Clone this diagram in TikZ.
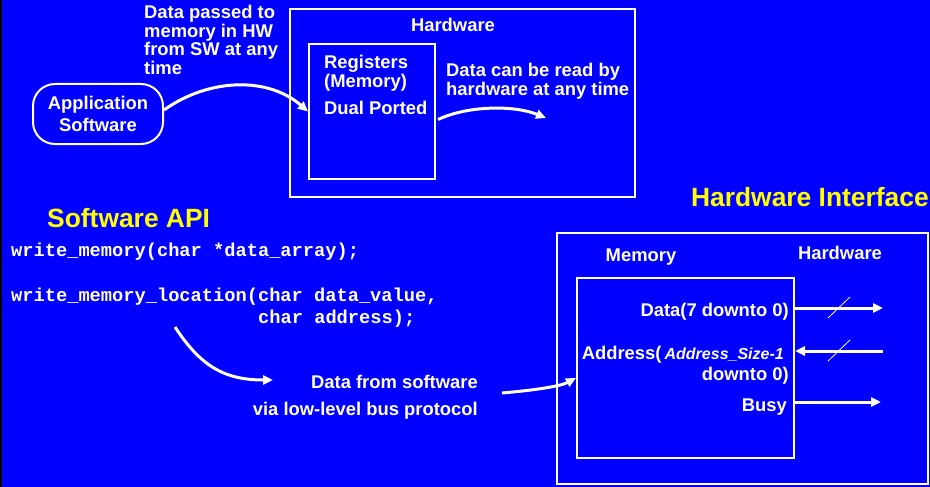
\documentclass[tikz,border=0pt]{standalone}
\usepackage{fontspec}
\setmainfont{Liberation Sans}
\setmonofont{Liberation Mono}
\usetikzlibrary{arrows.meta,calc}

\definecolor{slideblue}{RGB}{0,0,255}
\definecolor{slideyellow}{RGB}{255,255,0}

\tikzset{
  box/.style={draw=white, line width=2pt, inner sep=0pt},
  appbox/.style={box, rounded corners=22pt, text=white, align=center,
    font=\bfseries\fontsize{18.4}{22}\selectfont},
  lbl/.style={text=white, inner sep=0pt, align=left,
    font=\bfseries\fontsize{18.4}{18.5}\selectfont},
  title/.style={text=slideyellow, inner sep=0pt,
    font=\bfseries\fontsize{26.4}{28}\selectfont},
  code/.style={text=white, inner sep=0pt, anchor=base west,
    font=\ttfamily\bfseries\fontsize{18.7}{22}\selectfont},
  wire/.style={draw=white, line width=3pt, -{Triangle[length=10pt,width=9pt]}},
  slash/.style={draw=white, line width=0.8pt},
}

\begin{document}
\begin{tikzpicture}[x=1pt,y=1pt,yscale=-1]
  % slide background
  \fill[slideblue] (0,0) rectangle (930,487);
  \fill[black] (0,0) rectangle (2,487);
  \useasboundingbox (0,0) rectangle (930,487);

  % software writes to dual ported registers
  \node[box, anchor=north west, minimum width=345pt, minimum height=188pt] (hwbox) at (289,8) {};
  \node[lbl] (hwlbl) at (453,25) {Hardware};
  \node[box, anchor=north west, minimum width=126pt, minimum height=135pt] (regs) at (308,43) {};
  \node[lbl, anchor=west] (regname) at (324,73) {Registers\\(Memory)};
  \node[lbl, anchor=west] (dualport) at (324,108) {Dual Ported};
  \node[lbl, anchor=west] (hwread) at (446,81) {Data can be read by\\hardware at any time};
  \node[lbl, anchor=west] (swpass) at (144,40) {Data passed to\\memory in HW\\from SW at any\\time};
  \node[appbox, anchor=north west, minimum width=130pt, minimum height=60pt] (appsw) at (32,83) {Application\\Software};

  \coordinate (hwend) at (546,118);
  \draw[wire] ($(appsw.east)+(0,-4)$) .. controls +(45,-32) and +(-40,-35) .. (regs.west);
  \draw[wire] ($(regs.east)+(2,8)$) .. controls +(30,-14) and +(-32,-13) .. (hwend);

  % software API
  \node[title, anchor=west] (swapi) at (47,218) {Software API};
  \node[code] (api1) at (11,256) {write\_memory(char *data\_array);};
  \node[code] (api2) at (11,301) {write\_memory\_location(char data\_value,};
  \node[code] (api3) at (258,323) {char address);};

  \node[lbl, align=right, anchor=east, font=\bfseries\fontsize{18.4}{27}\selectfont] (bus) at (478,397)
    {Data from software\\via low-level bus protocol};

  % hardware interface
  \node[title, anchor=east] (hwif) at (929,197) {Hardware Interface};
  \node[box, anchor=north west, minimum width=371pt, minimum height=251pt] (memif) at (556,232) {};
  \node[box, anchor=north west, minimum width=217pt, minimum height=180pt] (mem) at (576,277) {};
  \node[lbl] (memlbl) at (641,257) {Memory};
  \node[lbl] (hwlbl2) at (840,253) {Hardware};
  \node[lbl, anchor=east] (datsig) at (789,312) {Data(7 downto 0)};
  \node[lbl, anchor=east, align=right, font=\bfseries\fontsize{18.4}{21}\selectfont] (addrsig) at (789,365)
    {Address(\,{\itshape\fontsize{16}{18}\selectfont Address\_Size-1}\hspace*{5pt}\\downto 0)};
  \node[lbl, anchor=east] (busysig) at (787,407) {Busy};

  \coordinate (apifrom) at (175,327);
  \coordinate (busin) at (273,380);
  \coordinate (busout) at (502,393);
  \draw[wire] (apifrom) .. controls +(25,38) and +(-50,0) .. (busin);
  \draw[wire] (busout) .. controls +(35,-3) and +(-15,8) .. ($(mem.west)+(0,10)$);

  \coordinate (datout) at (883,308);
  \coordinate (addrin) at (883,351);
  \coordinate (busyout) at (881,402);
  \draw[wire] (mem.east |- datout) -- (datout);
  \draw[wire] (addrin) -- (mem.east |- addrin);
  \draw[wire] (mem.east |- busyout) -- (busyout);
  \draw[slash] ($(mem.east |- datout)!0.5!(datout)+(-11,10)$) -- +(22,-21);
  \draw[slash] ($(mem.east |- addrin)!0.5!(addrin)+(-11,10)$) -- +(22,-21);
\end{tikzpicture}
\end{document}
